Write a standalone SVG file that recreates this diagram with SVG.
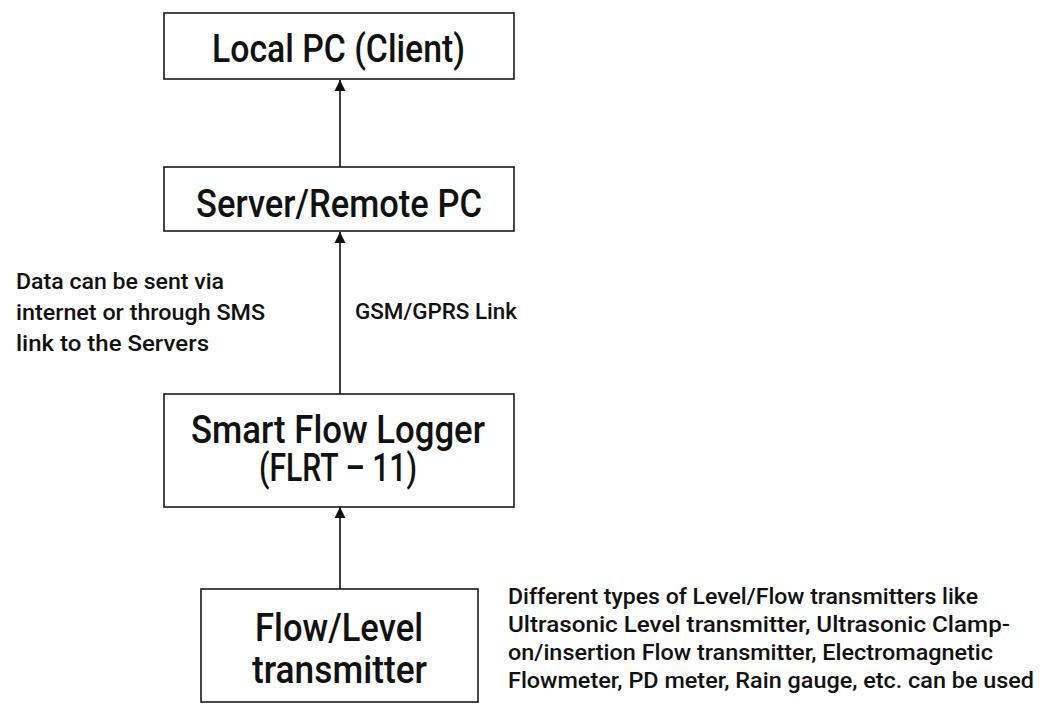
<svg xmlns="http://www.w3.org/2000/svg" width="1050" height="706" viewBox="0 0 1050 706">
<style>
.box{fill:#fff;stroke:#1a1a1a;stroke-width:1.6}
.big{font-family:Roboto,"DejaVu Sans","Liberation Sans",sans-serif;font-weight:500;font-size:39px;fill:#111}
.small{font-family:Roboto,"DejaVu Sans","Liberation Sans",sans-serif;font-weight:500;font-size:21.5px;fill:#111}
.conn{stroke:#111;stroke-width:1.6;fill:none;marker-end:url(#arr)}
</style>
<defs>
<marker id="arr" markerUnits="userSpaceOnUse" markerWidth="12" markerHeight="12" refX="11" refY="6" orient="auto">
<path d="M0,0.5 L11,6 L0,11.5 z" fill="#111"/>
</marker>
</defs>
<rect width="1050" height="706" fill="#fff"/>
<g id="connectors">
<line class="conn" x1="340" y1="167" x2="340" y2="80"/>
<line class="conn" x1="340" y1="394" x2="340" y2="232"/>
<line class="conn" x1="340" y1="589" x2="340" y2="507"/>
</g>
<g id="local-pc">
<rect class="box" x="164" y="13" width="350" height="66"/>
<text class="big" x="212" y="62" textLength="253" lengthAdjust="spacingAndGlyphs">Local PC (Client)</text>
</g>
<g id="server">
<rect class="box" x="164" y="167" width="350" height="64"/>
<text class="big" x="196" y="217" textLength="286" lengthAdjust="spacingAndGlyphs">Server/Remote PC</text>
</g>
<g id="logger">
<rect class="box" x="164" y="394" width="350" height="113"/>
<text class="big" x="191" y="443" textLength="294" lengthAdjust="spacingAndGlyphs">Smart Flow Logger</text>
<text class="big" x="259" y="481" textLength="158" lengthAdjust="spacingAndGlyphs">(FLRT – 11)</text>
</g>
<g id="transmitter">
<rect class="box" x="201" y="589" width="277" height="113"/>
<text class="big" x="255" y="641" textLength="168" lengthAdjust="spacingAndGlyphs">Flow/Level</text>
<text class="big" x="252" y="683" textLength="175" lengthAdjust="spacingAndGlyphs">transmitter</text>
</g>
<g id="label-left">
<text class="small" x="16" y="289" textLength="208" lengthAdjust="spacingAndGlyphs">Data can be sent via</text>
<text class="small" x="16" y="320" textLength="249" lengthAdjust="spacingAndGlyphs">internet or through SMS</text>
<text class="small" x="16" y="351" textLength="193" lengthAdjust="spacingAndGlyphs">link to the Servers</text>
</g>
<g id="label-gsm">
<text class="small" x="355" y="319" textLength="162" lengthAdjust="spacingAndGlyphs">GSM/GPRS Link</text>
</g>
<g id="label-right">
<text class="small" x="508" y="604" textLength="470" lengthAdjust="spacingAndGlyphs">Different types of Level/Flow transmitters like</text>
<text class="small" x="508" y="632" textLength="502" lengthAdjust="spacingAndGlyphs">Ultrasonic Level transmitter, Ultrasonic Clamp-</text>
<text class="small" x="508" y="660" textLength="485" lengthAdjust="spacingAndGlyphs">on/insertion Flow transmitter, Electromagnetic</text>
<text class="small" x="508" y="688" textLength="526" lengthAdjust="spacingAndGlyphs">Flowmeter, PD meter, Rain gauge, etc. can be used</text>
</g>
</svg>
